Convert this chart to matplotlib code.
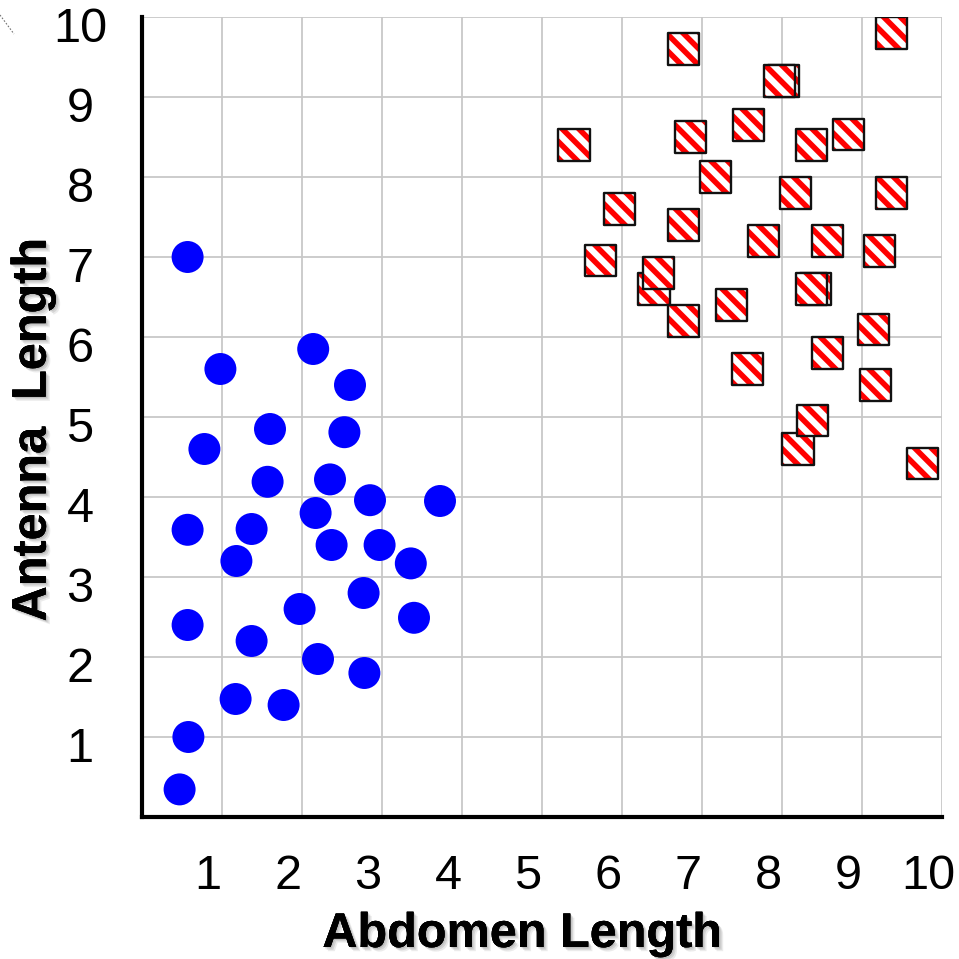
import matplotlib
matplotlib.use("Agg")
import matplotlib.pyplot as plt
import matplotlib.patheffects as pe
from matplotlib.transforms import ScaledTranslation
from matplotlib.lines import Line2D

# Insect measurements: class 1 (blue circles)
abdomen_blue = [0.57, 0.98, 2.14, 2.6, 0.78, 1.6, 2.53, 1.57, 2.35, 3.725,
                2.85, 0.57, 1.37, 2.17, 1.18, 2.37, 2.97, 3.36, 0.57, 1.97,
                2.77, 3.4, 1.37, 2.2, 2.78, 1.17, 1.77, 0.58, 0.47]
antenna_blue = [7.0, 5.6, 5.85, 5.4, 4.6, 4.85, 4.81, 4.19, 4.22, 3.95,
                3.96, 3.59, 3.6, 3.8, 3.2, 3.4, 3.4, 3.17, 2.4, 2.6,
                2.8, 2.49, 2.2, 1.975, 1.8, 1.475, 1.4, 1.0, 0.345]

# Insect measurements: class 2 (red hatched squares)
abdomen_red = [6.77, 9.37, 8.02, 7.97, 5.4, 6.86, 7.58, 8.37, 8.83, 7.17,
               8.17, 9.37, 5.97, 6.77, 7.77, 8.57, 9.22, 5.735, 6.4, 6.46,
               6.77, 7.37, 8.42, 8.37, 9.14, 8.57, 7.57, 9.17, 8.2, 8.38,
               9.76]
antenna_red = [9.6, 9.8, 9.2, 9.2, 8.4, 8.5, 8.65, 8.4, 8.53, 8.0,
               7.8, 7.8, 7.6, 7.4, 7.2, 7.2, 7.075, 6.96, 6.6, 6.8,
               6.2, 6.4, 6.6, 6.6, 6.09, 5.8, 5.6, 5.4, 4.6, 4.96,
               4.42]

tick_values = [1, 2, 3, 4, 5, 6, 7, 8, 9, 10]
tick_labels = ["1", "2", "3", "4", "5", "6", "7", "8", "9", "10"]

plt.rcParams["font.family"] = ["Liberation Sans", "DejaVu Sans"]
plt.rcParams["hatch.linewidth"] = 4.0

DPI = 100
fig = plt.figure(figsize=(9.59, 9.59), dpi=DPI)
fig.patch.set_facecolor("white")
ax = fig.add_axes([142 / 959, 142 / 959, 800 / 959, 800 / 959])
ax.set_xlim(0, 10)
ax.set_ylim(0, 10)

ax.set_xticks(tick_values, tick_labels)
ax.set_yticks(tick_values, tick_labels)
ax.grid(True, color="#c8c8c8", linewidth=1.3)
ax.set_axisbelow(True)

for side in ("top", "right"):
    ax.spines[side].set_visible(False)
for side in ("left", "bottom"):
    ax.spines[side].set_linewidth(3)
    ax.spines[side].set_color("black")
    ax.spines[side].set_capstyle("projecting")

ax.tick_params(axis="x", length=0, labelsize=35, pad=42.5)
ax.tick_params(axis="y", length=0, labelsize=35, pad=44.6)

shift_x = ScaledTranslation(-14 / DPI, 0, fig.dpi_scale_trans)
shift_y = ScaledTranslation(0, -12 / DPI, fig.dpi_scale_trans)
for lbl in ax.get_xticklabels():
    lbl.set_va("center")
    lbl.set_transform(lbl.get_transform() + shift_x)
for lbl in ax.get_yticklabels():
    lbl.set_ha("center")
    lbl.set_va("center")
    lbl.set_transform(lbl.get_transform() + shift_y)

# Blue circles
ax.scatter(abdomen_blue, antenna_blue, s=530, c="#0000ff",
           edgecolors="none", zorder=3)

# Red hatched squares, each drawn on top of the previous one
for i, (xv, yv) in enumerate(zip(abdomen_red, antenna_red)):
    z = 4 + i * 0.01
    ax.scatter([xv], [yv], s=500, marker="s", facecolor="white",
               edgecolor="#ff0000", hatch="\\\\", linewidth=0, zorder=z)
    ax.scatter([xv], [yv], s=500, marker="s", facecolor="none",
               edgecolor="#111111", linewidth=1.7, zorder=z + 0.001)

# Axis titles with a soft drop shadow
shadow = [
    pe.withSimplePatchShadow(offset=(1, -1), shadow_rgbFace="0.55", alpha=0.35),
    pe.withSimplePatchShadow(offset=(2, -2), shadow_rgbFace="0.6", alpha=0.3),
    pe.withSimplePatchShadow(offset=(3, -3), shadow_rgbFace="0.7", alpha=0.25),
    pe.Normal(),
]
title_font = dict(fontsize=35, fontweight="bold", color="black",
                  family=["Liberation Sans", "DejaVu Sans"])

ax.set_xlabel("Abdomen Length", **title_font)
ax.xaxis.set_label_coords(0.475, -0.1625)
ax.xaxis.label.set_va("baseline")
ax.xaxis.label.set_path_effects(shadow)

ax.set_ylabel("Antenna  Length", **title_font)
ax.yaxis.set_label_coords(-0.136, 0.484)
ax.yaxis.label.set_va("center")
ax.yaxis.label.set_path_effects(shadow)

# Small dotted stroke in the upper-left corner
fig.add_artist(Line2D([0.0, 14 / 959], [1 - 15 / 959, 1 - 34 / 959],
                      transform=fig.transFigure, color="0.45",
                      linestyle=(0, (1.5, 1.5)), linewidth=0.8))

fig.savefig("out.png", dpi=DPI, facecolor="white")
